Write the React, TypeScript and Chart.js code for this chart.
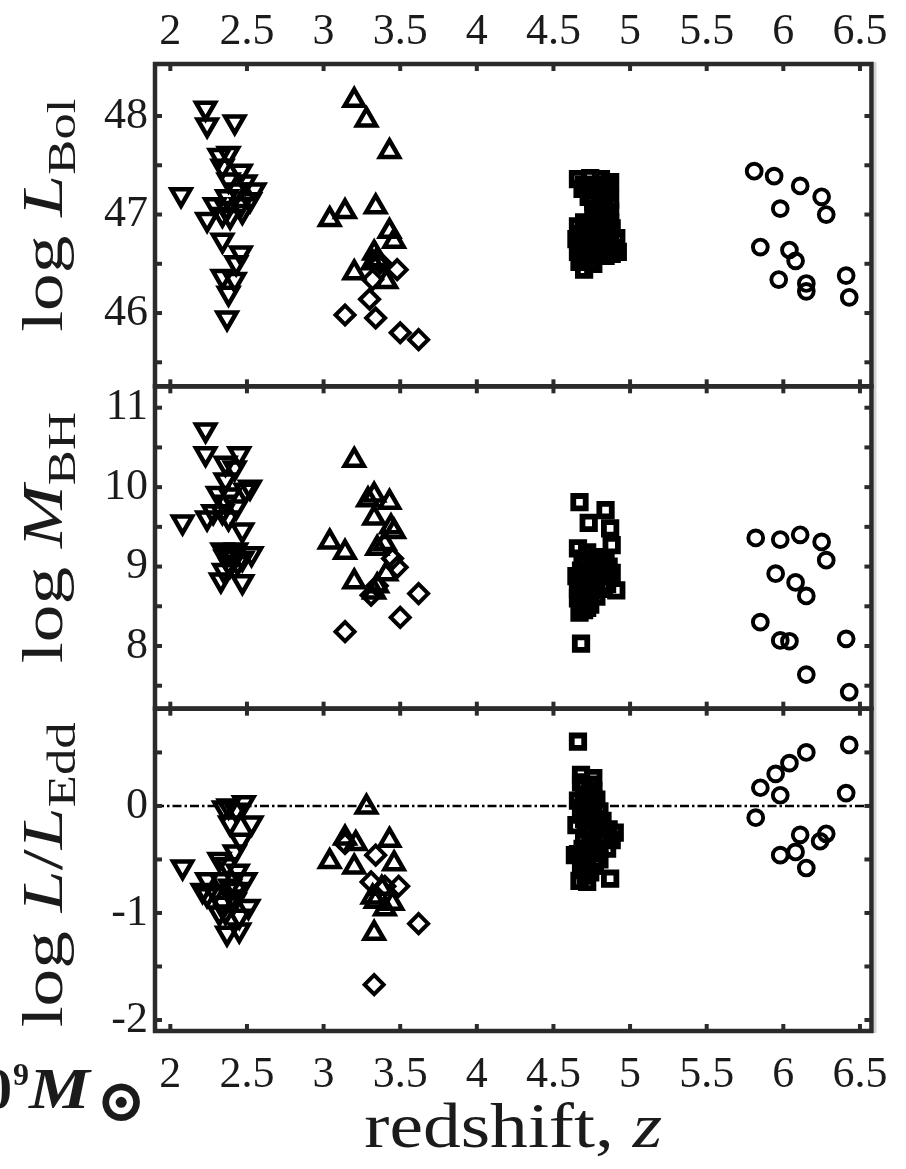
import React, { useEffect, useRef } from 'react';
import { Chart, registerables } from 'chart.js';

Chart.register(...registerables);

const W = 906;
const H = 1169;

// Axis ranges
const Z_MIN = 1.9;
const Z_MAX = 6.575;
const BOL_RANGE = [45.256, 48.528];
const BH_RANGE = [7.211, 11.269];
const EDD_RANGE = [-2.103, 0.909];

// ---- log L_Bol panel ----
const bolDownZ = [2.07, 2.23, 2.24, 2.42, 2.32, 2.38, 2.34, 2.46, 2.38, 2.49, 2.55, 2.43, 2.37, 2.52, 2.29, 2.37, 2.46, 2.24, 2.34, 2.39, 2.47, 2.34, 2.46, 2.43, 2.34, 2.42, 2.38, 2.37];
const bolDown = [47.20, 48.08, 47.91, 47.94, 47.60, 47.62, 47.49, 47.44, 47.35, 47.33, 47.25, 47.25, 47.18, 47.15, 47.10, 47.06, 47.10, 46.95, 47.00, 46.98, 47.03, 46.74, 46.61, 46.51, 46.37, 46.34, 46.20, 45.95];
const bolUpZ = [3.20, 3.28, 3.43, 3.04, 3.14, 3.34, 3.43, 3.46, 3.33, 3.35, 3.32, 3.20, 3.41];
const bolUp = [48.16, 47.96, 47.64, 46.95, 47.03, 47.08, 46.83, 46.73, 46.61, 46.54, 46.51, 46.41, 46.32];
const bolDiaZ = [3.48, 3.32, 3.37, 3.30, 3.14, 3.34, 3.50, 3.62];
const bolDia = [46.44, 46.34, 46.51, 46.14, 45.98, 45.95, 45.80, 45.73];
const bolSqZ = [4.66, 4.74, 4.81, 4.87, 4.69, 4.78, 4.86, 4.76, 4.83, 4.87, 4.76, 4.81, 4.87, 4.66, 4.72, 4.79, 4.85, 4.91, 4.65, 4.70, 4.76, 4.83, 4.90, 4.92, 4.66, 4.72, 4.78, 4.84, 4.67, 4.74, 4.70,
  4.70, 4.76, 4.84, 4.73, 4.80, 4.87, 4.79, 4.84, 4.77, 4.70, 4.82, 4.88, 4.68, 4.74, 4.80, 4.87, 4.69, 4.75, 4.81, 4.88, 4.70, 4.76];
const bolSq = [47.36, 47.37, 47.36, 47.33, 47.26, 47.25, 47.22, 47.13, 47.10, 47.03, 47.02, 46.96, 46.92, 46.88, 46.86, 46.88, 46.82, 46.76, 46.75, 46.72, 46.70, 46.72, 46.66, 46.62, 46.62, 46.58, 46.60, 46.58, 46.52, 46.52, 46.44,
  47.30, 47.30, 47.28, 47.18, 47.18, 47.15, 47.06, 47.00, 46.92, 46.92, 46.86, 46.86, 46.80, 46.78, 46.76, 46.72, 46.66, 46.64, 46.66, 46.60, 46.56, 46.50];
const bolCircZ = [5.81, 5.94, 6.11, 6.25, 5.98, 6.28, 5.85, 6.04, 6.08, 5.97, 6.15, 6.15, 6.41, 6.43];
const bolCirc = [47.44, 47.39, 47.29, 47.18, 47.06, 47.00, 46.67, 46.64, 46.53, 46.34, 46.30, 46.22, 46.38, 46.16];

// ---- log M_BH panel ----
const bhDownZ = [2.23, 2.08, 2.23, 2.45, 2.36, 2.42, 2.36, 2.52, 2.49, 2.31, 2.39, 2.36, 2.43, 2.28, 2.34, 2.24, 2.38, 2.47, 2.34, 2.43, 2.53, 2.36, 2.47, 2.39, 2.35, 2.33, 2.47, 2.40, 2.44, 2.37];
const bhDown = [10.72, 9.56, 10.42, 10.42, 10.30, 10.24, 10.09, 10.00, 9.96, 9.92, 9.90, 9.81, 9.75, 9.69, 9.69, 9.61, 9.61, 9.46, 9.21, 9.21, 9.16, 9.12, 9.10, 9.02, 8.95, 8.83, 8.81, 9.15, 9.05, 9.18];
const bhUpZ = [3.20, 3.04, 3.14, 3.20, 3.29, 3.33, 3.43, 3.33, 3.44, 3.46, 3.35, 3.40, 3.41, 3.35, 3.33];
const bhUp = [10.34, 9.31, 9.18, 8.81, 9.84, 9.90, 9.81, 9.61, 9.50, 9.44, 9.23, 9.29, 8.91, 8.76, 8.68];
const bhDiaZ = [3.14, 3.50, 3.62, 3.31, 3.48, 3.45, 3.35];
const bhDia = [8.18, 8.36, 8.66, 8.64, 8.99, 9.10, 8.76];
const bhSqZ = [4.67, 4.84, 4.73, 4.87, 4.88, 4.66, 4.91, 4.68, 4.72, 4.78, 4.84, 4.70, 4.76, 4.83, 4.88, 4.65, 4.72, 4.78, 4.85, 4.66, 4.71, 4.76, 4.66, 4.72, 4.78, 4.68, 4.74, 4.70,
  4.69, 4.75, 4.81, 4.86, 4.68, 4.74, 4.80, 4.69, 4.75, 4.82, 4.69, 4.74, 4.72, 4.67];
const bhSq = [9.81, 9.71, 9.55, 9.48, 9.27, 9.23, 8.70, 8.03, 9.18, 9.12, 9.10, 9.02, 9.00, 8.96, 8.92, 8.88, 8.85, 8.80, 8.78, 8.72, 8.68, 8.70, 8.60, 8.58, 8.62, 8.50, 8.52, 8.45,
  9.10, 9.06, 9.03, 9.00, 8.95, 8.92, 8.88, 8.80, 8.76, 8.72, 8.64, 8.64, 8.48, 8.42];
const bhCircZ = [5.82, 5.98, 6.11, 6.25, 6.28, 5.95, 6.08, 6.15, 5.85, 5.98, 6.04, 6.41, 6.15, 6.43];
const bhCirc = [9.36, 9.34, 9.40, 9.31, 9.08, 8.91, 8.80, 8.63, 8.30, 8.07, 8.06, 8.09, 7.64, 7.42];

// ---- log L/L_Edd panel ----
const eddDownZ = [2.08, 2.35, 2.48, 2.43, 2.39, 2.53, 2.46, 2.42, 2.32, 2.37, 2.44, 2.24, 2.33, 2.49, 2.21, 2.29, 2.39, 2.24, 2.34, 2.42, 2.51, 2.36, 2.45, 2.37, 2.45, 2.32, 2.38, 2.40, 2.43];
const eddDown = [-0.57, -0.02, 0.03, -0.04, -0.16, -0.16, -0.32, -0.43, -0.50, -0.55, -0.61, -0.69, -0.69, -0.69, -0.79, -0.80, -0.75, -0.83, -0.91, -0.88, -0.94, -0.99, -1.03, -1.19, -1.16, -1.00, 0.00, -0.85, -0.78];
const eddUpZ = [3.28, 3.04, 3.14, 3.21, 3.20, 3.43, 3.46, 3.38, 3.34, 3.45, 3.40, 3.33, 3.32];
const eddUp = [-0.01, -0.52, -0.30, -0.35, -0.57, -0.32, -0.54, -0.77, -0.89, -0.91, -0.96, -1.19, -0.85];
const eddDiaZ = [3.34, 3.31, 3.49, 3.62, 3.33, 3.14, 3.40];
const eddDia = [-0.46, -0.71, -0.75, -1.10, -1.67, -0.35, -0.75];
const eddSqZ = [4.66, 4.68, 4.76, 4.87, 4.64, 4.70, 4.76, 4.66, 4.72, 4.78, 4.68, 4.74, 4.80, 4.65, 4.71, 4.78, 4.86, 4.90, 4.83, 4.70, 4.76, 4.85, 4.66, 4.72, 4.80, 4.68, 4.74, 4.67, 4.72,
  4.68, 4.74, 4.70, 4.76, 4.69, 4.76, 4.70, 4.77, 4.82, 4.74, 4.80, 4.88, 4.69, 4.80, 4.75, 4.70, 4.77, 4.71];
const eddSq = [0.60, 0.29, 0.26, -0.68, -0.46, 0.18, 0.14, 0.05, 0.02, 0.06, -0.08, -0.10, -0.05, -0.18, -0.20, -0.18, -0.22, -0.25, -0.30, -0.33, -0.36, -0.40, -0.45, -0.50, -0.50, -0.60, -0.62, -0.70, -0.71,
  0.22, 0.20, 0.10, 0.08, -0.02, 0.00, -0.12, -0.12, -0.14, -0.26, -0.28, -0.32, -0.40, -0.40, -0.44, -0.56, -0.56, -0.65];
const eddCircZ = [5.82, 5.85, 5.95, 5.98, 6.04, 6.15, 6.43, 6.41, 6.11, 6.28, 6.24, 5.98, 6.08, 6.15];
const eddCirc = [-0.11, 0.17, 0.30, 0.10, 0.40, 0.50, 0.57, 0.12, -0.27, -0.26, -0.33, -0.46, -0.43, -0.58];

// Eddington reference level
const EDD_REF = 0;

// Tick spacing on every axis
const zTickStep = 0.5;
const yTickStep = 0.5;

const SERIF = "'Liberation Serif', 'Times New Roman', serif";
const SYMBOL_FONT = "'DejaVu Serif', 'DejaVu Sans', serif";
const TEXT = '#1b1b1b';
const FRAME = '#2b2b2b';
const INK = '#000000';

const LEFT_W = 155;
const RIGHT_PAD = 28;
const TOP_H = 64;
const BOTTOM_H = 138;
const TICK_LEN = 7;

const pts = (zs: number[], vs: number[]) => zs.map((z, i) => ({ x: z, y: vs[i] }));

const markers: Record<string, any> = {
  down: { pointStyle: 'triangle', pointRotation: 180, pointRadius: 11, pointBorderWidth: 4.5 },
  up: { pointStyle: 'triangle', pointRotation: 0, pointRadius: 11, pointBorderWidth: 4.5 },
  dia: { pointStyle: 'rectRot', pointRotation: 0, pointRadius: 9.5, pointBorderWidth: 4 },
  sq: { pointStyle: 'rect', pointRotation: 0, pointRadius: 8.8, pointBorderWidth: 5.8 },
  circ: { pointStyle: 'circle', pointRotation: 0, pointRadius: 7.4, pointBorderWidth: 3.9 },
};

function series(label: string, axis: string, kind: string, zs: number[], vs: number[]) {
  return {
    type: 'scatter',
    label,
    yAxisID: axis,
    xAxisID: 'x',
    data: pts(zs, vs),
    borderColor: INK,
    borderWidth: markers[kind].pointBorderWidth,
    backgroundColor: 'rgba(0,0,0,0)',
    pointBackgroundColor: 'rgba(0,0,0,0)',
    pointBorderColor: INK,
    pointHoverRadius: markers[kind].pointRadius,
    ...markers[kind],
  };
}

type Seg = { t: string; it?: boolean; b?: boolean; sub?: boolean; sup?: boolean };

function richText(
  ctx: CanvasRenderingContext2D,
  segs: Seg[],
  x: number,
  y: number,
  size: number,
  opts: { rot?: number; sx?: number; align?: 'left' | 'center' | 'right'; family?: string } = {}
) {
  const { rot = 0, sx = 1, align = 'center', family = SERIF } = opts;
  ctx.save();
  ctx.translate(x, y);
  ctx.rotate(rot);
  ctx.scale(sx, 1);
  ctx.textBaseline = 'alphabetic';
  ctx.textAlign = 'left';
  ctx.fillStyle = TEXT;
  const fontOf = (s: Seg) =>
    `${s.it ? 'italic ' : ''}${s.b ? 'bold ' : ''}${(size * (s.sub || s.sup ? 0.7 : 1)).toFixed(1)}px ${family}`;
  let total = 0;
  const widths = segs.map((s) => {
    ctx.font = fontOf(s);
    const w = ctx.measureText(s.t).width;
    total += w;
    return w;
  });
  let cx = align === 'center' ? -total / 2 : align === 'right' ? -total : 0;
  segs.forEach((s, i) => {
    ctx.font = fontOf(s);
    ctx.fillText(s.t, cx, s.sub ? size * 0.22 : s.sup ? -size * 0.38 : 0);
    cx += widths[i];
  });
  ctx.restore();
}

const panelFrames = {
  id: 'panelFrames',
  afterDraw(chart: any) {
    const ctx: CanvasRenderingContext2D = chart.ctx;
    const a = chart.chartArea;
    const xs = chart.scales.x;
    const panels = ['yL', 'yM', 'yE'].map((id) => chart.scales[id]);
    ctx.save();

    // soft edge beside the right frame
    ctx.fillStyle = '#d2d2d2';
    ctx.fillRect(a.right + 2, a.top - 2, 3, a.bottom - a.top + 4);

    ctx.strokeStyle = FRAME;
    ctx.lineWidth = 4;
    ctx.lineCap = 'butt';
    const seg = (x1: number, y1: number, x2: number, y2: number) => {
      ctx.beginPath();
      ctx.moveTo(x1, y1);
      ctx.lineTo(x2, y2);
      ctx.stroke();
    };
    for (const s of panels) {
      for (const t of xs.ticks) {
        const px = xs.getPixelForValue(t.value);
        seg(px, s.top, px, s.top + TICK_LEN);
        seg(px, s.bottom, px, s.bottom - TICK_LEN);
      }
      for (const t of s.ticks) {
        const py = s.getPixelForValue(t.value);
        if (py < s.top + 4 || py > s.bottom - 4) continue;
        seg(a.left, py, a.left + TICK_LEN, py);
        seg(a.right, py, a.right - TICK_LEN, py);
      }
    }
    ctx.lineWidth = 4.5;
    for (const s of panels) {
      ctx.strokeRect(a.left, s.top, a.right - a.left, s.bottom - s.top);
    }

    // axis titles
    const rot = -Math.PI / 2;
    const mid = (s: any) => (s.top + s.bottom) / 2;
    richText(ctx, [{ t: 'log ' }, { t: 'L', it: true }, { t: 'Bol', sub: true }], 62, mid(panels[0]) - 10, 58, { rot, sx: 1.3 });
    richText(ctx, [{ t: 'log ' }, { t: 'M', it: true }, { t: 'BH', sub: true }], 62, mid(panels[1]) - 10, 58, { rot, sx: 1.3 });
    richText(ctx, [{ t: 'log ' }, { t: 'L', it: true }, { t: '/' }, { t: 'L', it: true }, { t: 'Edd', sub: true }], 62, mid(panels[2]) + 5, 58, { rot, sx: 1.3 });
    richText(ctx, [{ t: 'redshift, ' }, { t: 'z', it: true }], (a.left + a.right) / 2, 1147, 64, { sx: 1.18 });

    // mass annotation running in from the left edge
    richText(ctx, [{ t: '10', b: true }], 12, 1108, 56, { align: 'right' });
    richText(ctx, [{ t: '9', b: true }], 13, 1085, 32, { align: 'left' });
    richText(ctx, [{ t: 'M', b: true, it: true }], 29, 1108, 58, { align: 'left', sx: 1.18 });
    richText(ctx, [{ t: '\u2299', b: true }], 96, 1121, 60, { align: 'left', family: SYMBOL_FONT });

    ctx.restore();
  },
};

const tickFont = { family: SERIF, size: 44 };

function xAxis(position: 'top' | 'bottom') {
  return {
    type: 'linear',
    position,
    min: Z_MIN,
    max: Z_MAX,
    grid: { display: false, drawTicks: false },
    border: { display: false },
    ticks: {
      stepSize: zTickStep,
      includeBounds: false,
      autoSkip: false,
      maxRotation: 0,
      font: tickFont,
      color: TEXT,
      padding: position === 'top' ? 5 : 18,
      callback: (v: number) => String(v),
    },
    afterFit: (s: any) => {
      s.height = position === 'top' ? TOP_H : BOTTOM_H;
    },
  };
}

function yAxis(range: number[]) {
  return {
    type: 'linear',
    position: 'left',
    stack: 'panels',
    stackWeight: 1,
    min: range[0],
    max: range[1],
    grid: { display: false, drawTicks: false },
    border: { display: false },
    ticks: {
      stepSize: yTickStep,
      includeBounds: false,
      autoSkip: false,
      font: tickFont,
      color: TEXT,
      padding: 7,
      callback: (v: number) => (Number.isInteger(v) ? String(v) : ''),
    },
    afterFit: (s: any) => {
      s.width = LEFT_W;
    },
  };
}

export default function App() {
  const ref = useRef<HTMLCanvasElement>(null);

  useEffect(() => {
    const canvas = ref.current;
    if (!canvas) return;
    const chart = new Chart(canvas, {
      type: 'scatter',
      data: {
        datasets: [
          {
            type: 'line',
            label: 'Eddington limit',
            yAxisID: 'yE',
            xAxisID: 'x',
            data: [
              { x: Z_MIN, y: EDD_REF },
              { x: Z_MAX, y: EDD_REF },
            ],
            borderColor: INK,
            borderWidth: 2.5,
            borderDash: [9, 3, 2.5, 3],
            pointRadius: 0,
            fill: false,
          },
          series('z~2.4', 'yL', 'down', bolDownZ, bolDown),
          series('z~3.3', 'yL', 'up', bolUpZ, bolUp),
          series('z~3.3b', 'yL', 'dia', bolDiaZ, bolDia),
          series('z~4.8', 'yL', 'sq', bolSqZ, bolSq),
          series('z~6', 'yL', 'circ', bolCircZ, bolCirc),
          series('z~2.4', 'yM', 'down', bhDownZ, bhDown),
          series('z~3.3', 'yM', 'up', bhUpZ, bhUp),
          series('z~3.3b', 'yM', 'dia', bhDiaZ, bhDia),
          series('z~4.8', 'yM', 'sq', bhSqZ, bhSq),
          series('z~6', 'yM', 'circ', bhCircZ, bhCirc),
          series('z~2.4', 'yE', 'down', eddDownZ, eddDown),
          series('z~3.3', 'yE', 'up', eddUpZ, eddUp),
          series('z~3.3b', 'yE', 'dia', eddDiaZ, eddDia),
          series('z~4.8', 'yE', 'sq', eddSqZ, eddSq),
          series('z~6', 'yE', 'circ', eddCircZ, eddCirc),
        ] as any,
      },
      options: {
        responsive: false,
        animation: false,
        devicePixelRatio: 1,
        events: [],
        layout: { padding: { left: 0, right: RIGHT_PAD, top: 0, bottom: 0 } },
        plugins: {
          legend: { display: false },
          tooltip: { enabled: false },
        },
        scales: {
          x: xAxis('bottom'),
          x2: xAxis('top'),
          yE: yAxis(EDD_RANGE),
          yM: yAxis(BH_RANGE),
          yL: yAxis(BOL_RANGE),
        } as any,
      },
      plugins: [panelFrames],
    } as any);
    return () => chart.destroy();
  }, []);

  return (
    <div style={{ position: 'absolute', left: 0, top: 0, width: W, height: H, background: '#ffffff', overflow: 'hidden' }}>
      <canvas ref={ref} width={W} height={H} style={{ display: 'block', width: W, height: H }} />
    </div>
  );
}
